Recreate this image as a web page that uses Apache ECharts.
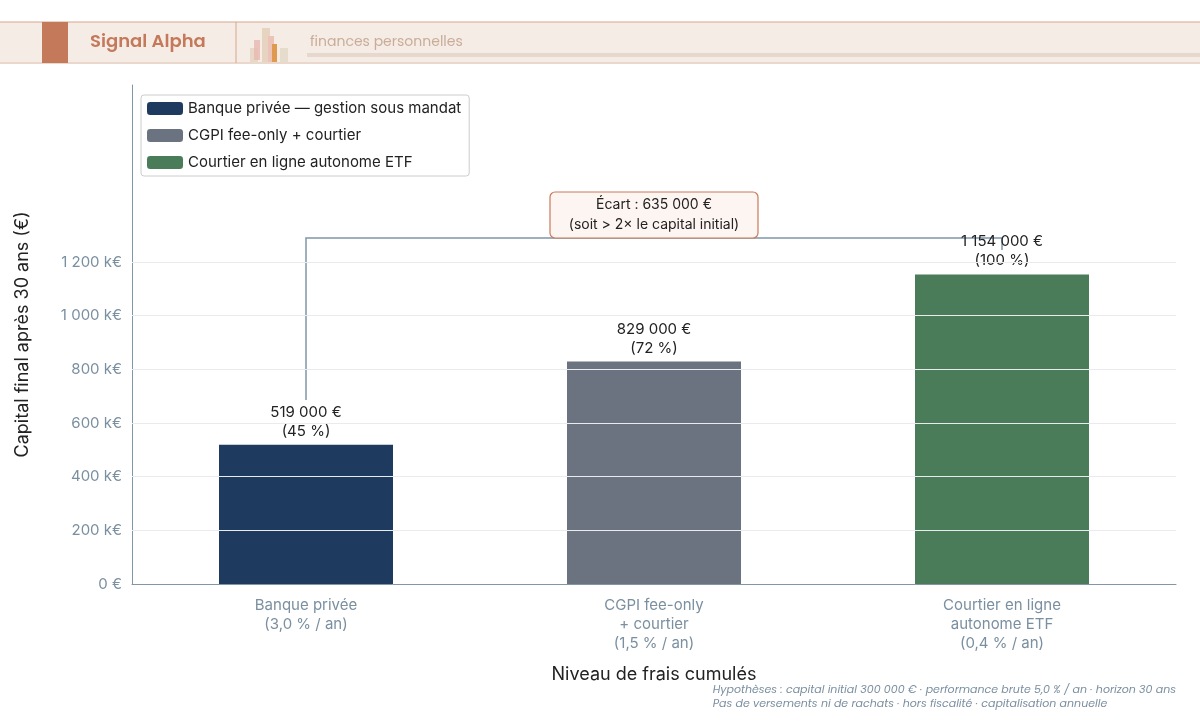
<!DOCTYPE html><html><head><meta charset="utf-8"><script src="https://cdn.jsdelivr.net/npm/echarts@6/dist/echarts.min.js"></script>
<style>body{margin:0;background:#fff}#c{width:1200px;height:721px}</style></head><body><div id="c"></div><script>
const categories=['Banque privée\n(3,0 % / an)','CGPI fee-only\n+ courtier\n(1,5 % / an)','Courtier en ligne\nautonome ETF\n(0,4 % / an)'];
const seriesNames=['Banque privée — gestion sous mandat','CGPI fee-only + courtier','Courtier en ligne autonome ETF'];
const values=[519000,829000,1154000];
const shares=['45 %','72 %','100 %'];
const colors=['#1e3a5f','#6b7280','#4a7c59'];
const gridValues=[200000,400000,600000,800000,1000000,1200000];
const gap=635000;
const F='Inter';
const fmt=v=>v.toLocaleString('fr-FR').replace(/[\u202f\u00a0]/g,' ');
const series=seriesNames.map((n,i)=>({name:n,type:'bar',stack:'s',barWidth:'50%',
 data:values.map((v,j)=>j===i?v:'-'),itemStyle:{color:colors[i]},
 label:{show:true,position:'top',distance:4,color:'#222',fontFamily:F,fontSize:15,lineHeight:19,
  formatter:p=>fmt(p.value)+' €\n('+shares[p.dataIndex]+')'}}));
series[0].markLine={silent:true,symbol:'none',label:{show:false},lineStyle:{color:'#e8ecef',type:'solid',width:1},data:gridValues.map(v=>({yAxis:v}))};
const ch=echarts.init(document.getElementById('c'));
ch.setOption({animation:false,
 grid:{left:132,right:24,top:85,bottom:137},
 legend:{left:141,top:95,orient:'vertical',itemWidth:36,itemHeight:13,itemGap:12,padding:[6,8,6,6],
  borderColor:'#ccc',borderWidth:1,borderRadius:3,textStyle:{fontFamily:F,fontSize:15,color:'#222'},data:seriesNames},
 xAxis:{type:'category',data:categories,axisTick:{show:false},axisLine:{lineStyle:{color:'#7f97a8'}},
  axisLabel:{fontFamily:F,fontSize:15,color:'#7a8fa0',lineHeight:19,margin:12},
  name:'Niveau de frais cumulés',nameLocation:'middle',nameGap:82,nameTextStyle:{fontFamily:F,fontSize:18,color:'#222'}},
 yAxis:{type:'value',min:0,max:1860000,interval:200000,splitLine:{show:false},
  axisLine:{show:true,lineStyle:{color:'#7f97a8'}},axisTick:{show:false},
  axisLabel:{fontFamily:F,fontSize:15,color:'#7a8fa0',margin:10,formatter:v=>v===0?'0 €':v>1200000?'':fmt(v/1000)+' k€'},
  name:'Capital final après 30 ans (€)',nameLocation:'middle',nameGap:100,nameTextStyle:{fontFamily:F,fontSize:18,color:'#222'}},
 series});
const p=(x,y)=>ch.convertToPixel({xAxisIndex:0,yAxisIndex:0},[x,y]);
const a=p(0,686000),b=p(0,1290000),c=p(2,1290000),d=p(2,1245000),m=p(1,1290000);
ch.setOption({graphic:[
 {type:'rect',shape:{x:0,y:22,width:1200,height:41},style:{fill:'#f6ece6'}},
 {type:'line',shape:{x1:0,y1:22,x2:1200,y2:22},style:{stroke:'#d6a58d',lineWidth:1}},
 {type:'line',shape:{x1:0,y1:63,x2:1200,y2:63},style:{stroke:'#ead8cc',lineWidth:2}},
 {type:'rect',shape:{x:42,y:22,width:26,height:41},style:{fill:'#c47a5a'}},
 {type:'line',shape:{x1:236,y1:22,x2:236,y2:63},style:{stroke:'#d6a58d',lineWidth:1}},
 {type:'text',x:90,y:33,style:{text:'Signal Alpha',fill:'#c47a5a',font:'600 18px Poppins, "Open Sans", sans-serif'}},
 {type:'rect',shape:{x:250,y:48,width:8,height:14},style:{fill:'#e8d8c8'}},
 {type:'rect',shape:{x:254,y:40,width:6,height:20},style:{fill:'#e8b8b0',opacity:0.8}},
 {type:'rect',shape:{x:262,y:28,width:8,height:34},style:{fill:'#e6d4c0'}},
 {type:'rect',shape:{x:268,y:36,width:6,height:26},style:{fill:'#ebc3b8'}},
 {type:'rect',shape:{x:272,y:44,width:5,height:18},style:{fill:'#e09a50'}},
 {type:'rect',shape:{x:280,y:48,width:8,height:14},style:{fill:'#e6dccc'}},
 {type:'text',x:310,y:35,style:{text:'finances personnelles',fill:'#c9ad99',font:'14px Poppins, "Open Sans", sans-serif'}},
 {type:'rect',shape:{x:307,y:53,width:893,height:4},style:{fill:'#e6d8cc'}},
 {type:'polyline',shape:{points:[a,b,c,d]},style:{stroke:'#7f97a8',lineWidth:1.5,fill:null}},
 {type:'rect',shape:{x:m[0]-104,y:192,width:208,height:46,r:5},style:{fill:'#fdf5f1',stroke:'#c87a5a',lineWidth:1.2}},
 {type:'text',x:m[0],y:215,style:{text:'Écart : '+fmt(gap)+' €\n(soit > 2× le capital initial)',align:'center',verticalAlign:'middle',fill:'#222',font:'14px Inter',lineHeight:20}},
 {type:'text',right:24,top:683,style:{text:'Hypothèses : capital initial 300 000 € · performance brute 5,0 % / an · horizon 30 ans\nPas de versements ni de rachats · hors fiscalité · capitalisation annuelle',align:'right',fill:'#7a8fa0',font:'italic 11px Poppins, "Open Sans", sans-serif',lineHeight:14}}
]});
</script></body></html>
